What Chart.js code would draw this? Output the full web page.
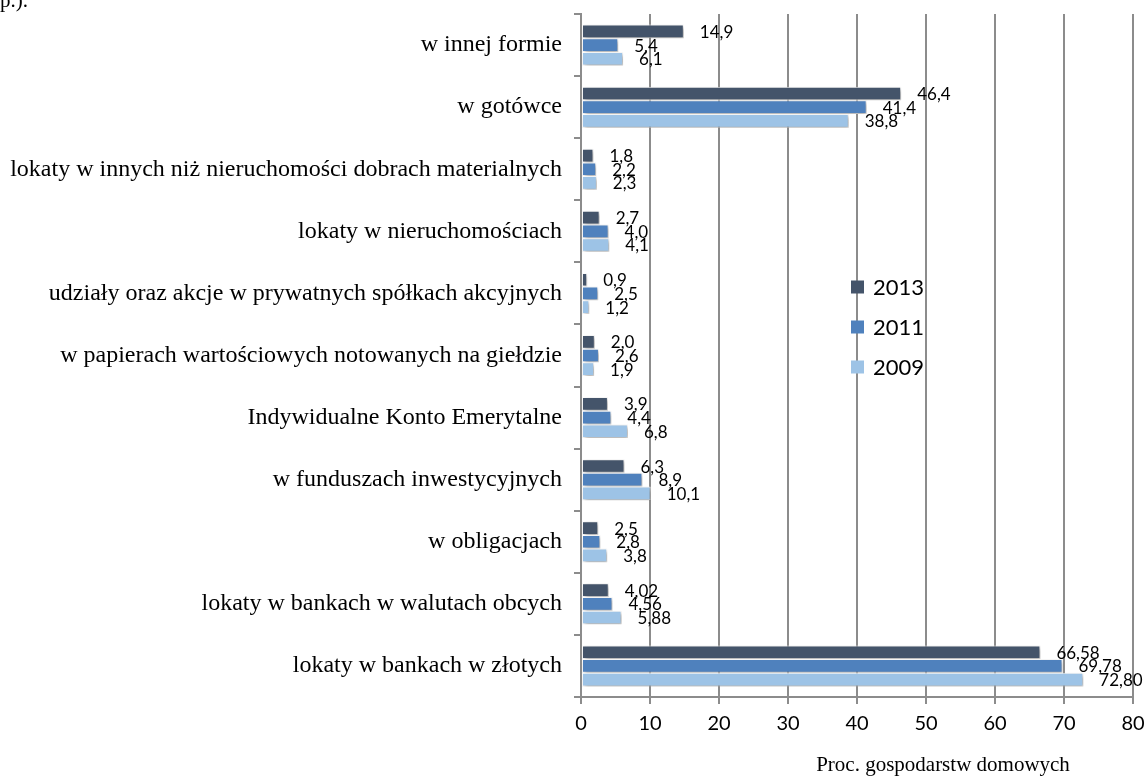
<!DOCTYPE html>
<html>
<head>
<meta charset="utf-8">
<script src="https://cdn.jsdelivr.net/npm/chart.js@4"></script>
<style>
  html, body { margin: 0; padding: 0; background: #fff; }
  #wrap { position: relative; width: 1148px; height: 776px; }
  #note { position: absolute; left: 0; top: -12px; font: 21px "Liberation Serif", serif; color: #000; }
</style>
</head>
<body>
<div id="wrap">
  <canvas id="chart" width="1148" height="776"></canvas>
  <div id="note">p.).</div>
</div>
<script>
// kategorie od góry do dołu
const categories = [
  'w innej formie',
  'w gotówce',
  'lokaty w innych niż nieruchomości dobrach materialnych',
  'lokaty w nieruchomościach',
  'udziały oraz akcje w prywatnych spółkach akcyjnych',
  'w papierach wartościowych notowanych na giełdzie',
  'Indywidualne Konto Emerytalne',
  'w funduszach inwestycyjnych',
  'w obligacjach',
  'lokaty w bankach w walutach obcych',
  'lokaty w bankach w złotych'
];
const years = ['2013', '2011', '2009'];
const v2013 = [14.9, 46.4, 1.8, 2.7, 0.9, 2.0, 3.9, 6.3, 2.5, 4.02, 66.58];
const v2011 = [5.4, 41.4, 2.2, 4.0, 2.5, 2.6, 4.4, 8.9, 2.8, 4.56, 69.78];
const v2009 = [6.1, 38.8, 2.3, 4.1, 1.2, 1.9, 6.8, 10.1, 3.8, 5.88, 72.80];
const decimals = [1, 1, 1, 1, 1, 1, 1, 1, 1, 2, 2];
const xTicks = [0, 10, 20, 30, 40, 50, 60, 70, 80];
const colors = ['#44546a', '#4f81bd', '#9dc3e6'];

const gridGray = '#8c8c8c';

// cień pod słupkami
const shadowPlugin = {
  id: 'shadow',
  beforeDatasetsDraw(chart) {
    const c = chart.ctx;
    c.save();
    c.shadowColor = 'rgba(0,0,0,0.35)';
    c.shadowBlur = 4;
    c.shadowOffsetX = 2;
    c.shadowOffsetY = 2;
  },
  afterDatasetsDraw(chart) {
    chart.ctx.restore();
  }
};

// etykiety wartości, legenda i tytuł osi
const labelsPlugin = {
  id: 'labels',
  afterDraw(chart) {
    const c = chart.ctx;
    c.save();
    c.font = '17px Lato, sans-serif';
    c.fillStyle = '#000';
    c.textBaseline = 'middle';
    c.textAlign = 'left';
    chart.data.datasets.forEach((ds, di) => {
      chart.getDatasetMeta(di).data.forEach((bar, i) => {
        const txt = ds.data[i].toFixed(decimals[i]).replace('.', ',');
        c.fillText(txt, bar.x + 16, bar.y + 1);
      });
    });

    // legenda
    c.font = '22px Lato, sans-serif';
    years.forEach((y, i) => {
      const cy = 287 + i * 40;
      c.fillStyle = colors[i];
      c.fillRect(851, cy - 6.5, 13, 13);
      c.fillStyle = '#000';
      c.fillText(y, 873, cy + 1);
    });

    c.font = '21px "Liberation Serif", serif';
    c.textAlign = 'center';
    c.fillText('Proc. gospodarstw domowych', 943, 765);
    c.restore();
  }
};

new Chart(document.getElementById('chart'), {
  type: 'bar',
  data: {
    labels: categories,
    datasets: [
      { label: years[0], data: v2013, backgroundColor: colors[0] },
      { label: years[1], data: v2011, backgroundColor: colors[1] },
      { label: years[2], data: v2009, backgroundColor: colors[2] }
    ].map(d => Object.assign(d, {
      borderColor: '#fff', borderWidth: 1, borderSkipped: false,
      categoryPercentage: 0.66, barPercentage: 1
    }))
  },
  options: {
    indexAxis: 'y',
    responsive: false,
    animation: false,
    layout: { padding: { left: 0, right: 15, top: 14, bottom: 0 } },
    plugins: { legend: { display: false }, tooltip: { enabled: false } },
    scales: {
      x: {
        min: 0, max: 80,
        afterBuildTicks: s => { s.ticks = xTicks.map(v => ({ value: v })); },
        ticks: { font: { family: 'Lato', size: 20 }, color: '#000', padding: 8 },
        grid: { color: gridGray, lineWidth: 2, tickLength: 7 },
        border: { color: gridGray, width: 2 },
        afterFit: s => { s.height = 79; s.paddingLeft = 0; s.paddingRight = 0; }
      },
      y: {
        grid: { offset: true, drawOnChartArea: false, color: gridGray, lineWidth: 2, tickLength: 7 },
        border: { color: gridGray, width: 2 },
        ticks: { font: { family: 'Liberation Serif', size: 24 }, color: '#000', padding: 12, autoSkip: false },
        afterFit: s => { s.width = 581; s.paddingTop = 0; s.paddingBottom = 0; }
      }
    }
  },
  plugins: [shadowPlugin, labelsPlugin]
});
</script>
</body>
</html>
